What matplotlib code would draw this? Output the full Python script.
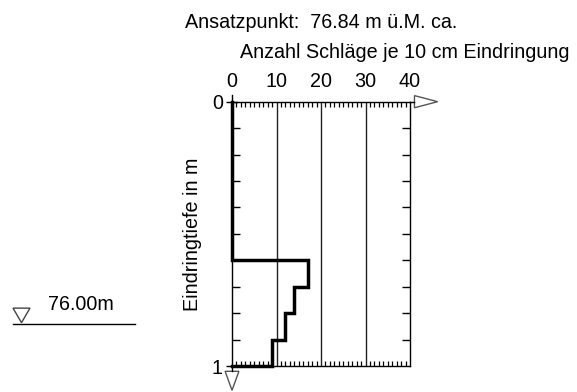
import matplotlib
matplotlib.use("Agg")
import matplotlib.pyplot as plt
import matplotlib.transforms as mtransforms
from matplotlib.patches import Polygon
import numpy as np

plt.rcParams['font.family'] = ['Liberation Sans', 'DejaVu Sans']
plt.rcParams['font.size'] = 14.2

# sounding data: depth intervals (m) and blows per 10 cm
depth_edges = [0.0, 0.6, 0.7, 0.8, 0.9, 1.0]
blows = [0, 17, 14, 12, 9]
x_ticks = [0, 10, 20, 30, 40]
y_labels = ['0', '1']
ansatz = 76.84
water_level = 76.00

fig = plt.figure(figsize=(5.77, 3.92), dpi=100)
ax = fig.add_axes([0.4021, 0.0663, 0.3085, 0.6743])
ax.set_xlim(0, 40)
ax.set_ylim(1, 0)

# step profile
ys = np.repeat(depth_edges, 2)
xs = np.concatenate([[0], np.repeat(blows, 2), [0]])
ax.plot(xs, ys, color='black', lw=2.5, solid_joinstyle='miter', clip_on=False, zorder=5)

# grid
for v in x_ticks[1:-1]:
    ax.axvline(v, color='#222222', lw=1.0)

ax.xaxis.tick_top()
ax.set_xticks(x_ticks)
ax.set_xticks(np.arange(0, 41, 1), minor=True)
ax.tick_params(axis='x', which='major', length=0, pad=8, labelsize=14.2)
ax.tick_params(axis='x', which='minor', direction='in', length=3.8, width=0.9,
               top=True, bottom=True)

ax.set_yticks([0, 1])
ax.set_yticklabels(y_labels)
ax.set_yticks(np.arange(0.1, 1.0, 0.1), minor=True)
ax.tick_params(axis='y', which='major', direction='inout', length=9, width=1, pad=2,
               left=True, right=False, labelsize=14.2)
ax.tick_params(axis='y', which='minor', direction='in', length=6, width=1,
               left=True, right=True)
ax.set_ylabel('Eindringtiefe in m', labelpad=7)

for s in ax.spines.values():
    s.set_linewidth(1.0)

# axis arrows
ax.plot([0, 0], [0, -0.025], color='black', lw=1, clip_on=False)
ax.plot([40, 41], [0, 0], color='black', lw=1, clip_on=False)
ax.add_patch(Polygon([[41, -0.023], [46.2, 0], [41, 0.023]], closed=True, fill=False,
                     edgecolor='#555555', lw=1, clip_on=False))
ax.plot([0, 0], [1, 1.02], color='black', lw=1, clip_on=False)
ax.add_patch(Polygon([[-1.55, 1.02], [1.55, 1.02], [0, 1.092]], closed=True, fill=False,
                     edgecolor='#555555', lw=1, clip_on=False))

# water level marker
wl_depth = ansatz - water_level
trans = mtransforms.blended_transform_factory(fig.transFigure, ax.transData)
fig.add_artist(plt.Line2D([13 / 577, 135 / 577], [wl_depth, wl_depth], transform=trans,
                          color='black', lw=1))
fig.add_artist(Polygon([[13 / 577, wl_depth - 0.059], [30 / 577, wl_depth - 0.059],
                        [21.5 / 577, wl_depth - 0.004]], closed=True, fill=False,
                       edgecolor='#444444', lw=1, transform=trans))
fig.text(48 / 577, wl_depth - 0.072, f'{water_level:.2f}m', transform=trans,
         ha='left', va='center', fontsize=14.2)

fig.text(185 / 577, 1 - 22 / 392, f'Ansatzpunkt:  {ansatz:.2f} m ü.M. ca.',
         ha='left', va='center', fontsize=14.2)
fig.text(240 / 577, 1 - 52 / 392, 'Anzahl Schläge je 10 cm Eindringung',
         ha='left', va='center', fontsize=14.2)

fig.savefig('out.png', dpi=100)
